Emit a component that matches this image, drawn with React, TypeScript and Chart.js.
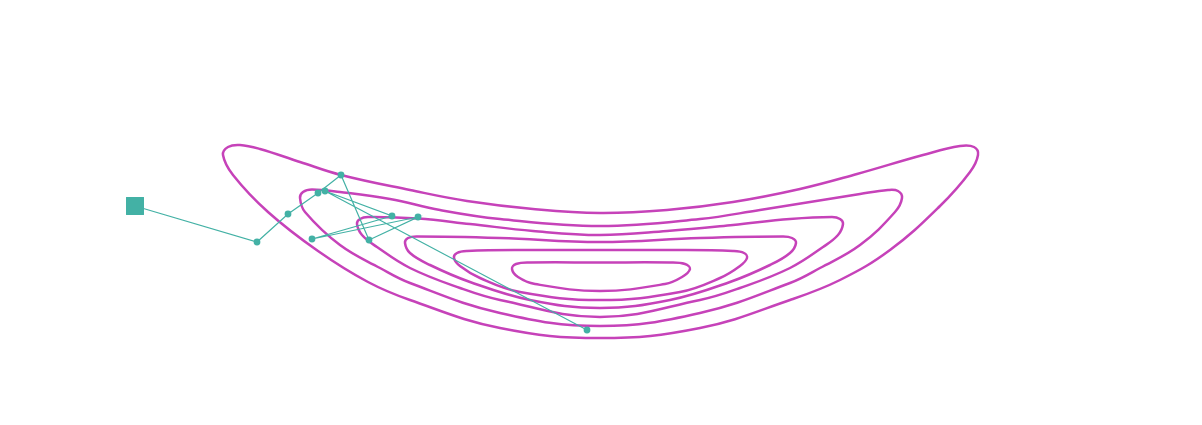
import { useEffect, useRef } from "react";
import { Chart, registerables } from "chart.js";

Chart.register(...registerables);

// Optimisation path (x, y) in data units; first point is the start marker
const PATH: [number, number][] = [
  [-4.65, 1.94],
  [-3.43, 1.58],
  [-3.12, 1.86],
  [-2.82, 2.07],
  [-2.59, 2.25],
  [-2.31, 1.6],
  [-1.82, 1.83],
  [-2.88, 1.61],
  [-2.08, 1.84],
  [-2.75, 2.09],
  [-0.13, 0.7],
];

// Contour level curves, outermost to innermost (closed loops)
const CONTOUR_1: [number, number][] = [
  [0, 0.62], [-1.0, 0.72], [-1.9, 1.0], [-2.32, 1.18], [-2.82, 1.49], [-3.32, 1.88],
  [-3.67, 2.25], [-3.77, 2.45], [-3.72, 2.53], [-3.6, 2.55], [-3.4, 2.51], [-3.0, 2.38],
  [-2.59, 2.25], [-1.9, 2.1], [-1.33, 1.99], [-0.67, 1.91], [0, 1.87], [0.67, 1.9],
  [1.33, 1.98], [2.0, 2.11], [2.57, 2.26], [3.23, 2.45], [3.6, 2.54], [3.74, 2.53],
  [3.78, 2.45], [3.7, 2.28], [3.4, 1.94], [2.9, 1.5], [2.4, 1.2], [1.9, 1.0],
  [1.0, 0.72],
];

const CONTOUR_2: [number, number][] = [
  [0, 0.74], [-1.0, 0.87], [-1.9, 1.17], [-2.2, 1.32], [-2.6, 1.55], [-2.95, 1.88],
  [-3.0, 2.02], [-2.97, 2.08], [-2.88, 2.105], [-2.6, 2.08], [-2.1, 2.01], [-1.6, 1.9],
  [-1.0, 1.81], [0, 1.74], [1.0, 1.81], [1.6, 1.9], [2.1, 1.98], [2.6, 2.06],
  [2.88, 2.1], [2.98, 2.09], [3.02, 2.02], [2.95, 1.88], [2.6, 1.55], [2.2, 1.32],
  [1.9, 1.17], [1.0, 0.87],
];

const CONTOUR_3: [number, number][] = [
  [0, 0.83], [-1.0, 1.0], [-1.4, 1.12], [-1.9, 1.32], [-2.23, 1.53], [-2.38, 1.65],
  [-2.43, 1.76], [-2.4, 1.81], [-2.32, 1.83], [-1.82, 1.815], [-1.3, 1.76], [-0.67, 1.69],
  [0, 1.65], [0.67, 1.69], [1.33, 1.75], [1.9, 1.81], [2.32, 1.83], [2.4, 1.81],
  [2.43, 1.76], [2.38, 1.65], [2.23, 1.53], [1.9, 1.32], [1.4, 1.12], [1.0, 1.0],
];

const CONTOUR_4: [number, number][] = [
  [0, 0.92], [-0.7, 1.0], [-1.3, 1.18], [-1.7, 1.35], [-1.9, 1.47], [-1.95, 1.57],
  [-1.92, 1.62], [-1.83, 1.635], [-1.0, 1.62], [0, 1.58], [1.0, 1.62], [1.83, 1.635],
  [1.92, 1.62], [1.96, 1.57], [1.9, 1.47], [1.7, 1.35], [1.3, 1.18], [0.7, 1.0],
];

const CONTOUR_5: [number, number][] = [
  [0, 1.0], [-0.8, 1.08], [-1.2, 1.22], [-1.4, 1.34], [-1.46, 1.42], [-1.43, 1.47],
  [-1.33, 1.49], [-0.7, 1.5], [0, 1.5], [0.7, 1.5], [1.33, 1.49], [1.44, 1.47],
  [1.47, 1.42], [1.4, 1.34], [1.2, 1.22], [0.8, 1.08],
];

const CONTOUR_6: [number, number][] = [
  [0, 1.09], [-0.65, 1.16], [-0.82, 1.23], [-0.88, 1.31], [-0.84, 1.36], [-0.7, 1.375],
  [0, 1.375], [0.7, 1.375], [0.85, 1.36], [0.9, 1.31], [0.82, 1.23], [0.65, 1.16],
];

const CONTOURS = [CONTOUR_1, CONTOUR_2, CONTOUR_3, CONTOUR_4, CONTOUR_5, CONTOUR_6];

const X_RANGE: [number, number] = [-6.0, 6.02];
const Y_RANGE: [number, number] = [-0.25, 4.0];

const TEAL = "#43b1a5";
const MAGENTA = "#c642b9";

const toPts = (arr: [number, number][]) => arr.map(([x, y]) => ({ x, y }));

// closed loop: one extra point on each side so every visible spline segment
// has real neighbours; the two padding segments are drawn transparent
const closedLoop = (arr: [number, number][]) => {
  const n = arr.length;
  return toPts([arr[n - 1], ...arr, arr[0], arr[1]]);
};

export default function App() {
  const ref = useRef<HTMLCanvasElement | null>(null);

  useEffect(() => {
    if (!ref.current) return;
    const pathDs = {
      label: "path",
      data: toPts(PATH),
      showLine: true,
      borderColor: TEAL,
      borderWidth: 1.2,
      backgroundColor: TEAL,
      pointBackgroundColor: TEAL,
      pointBorderWidth: 0,
      pointRadius: PATH.map((_, i) => (i === 0 ? 0 : 3.4)),
      tension: 0,
      order: 0,
    };
    const startDs = {
      label: "start",
      data: toPts([PATH[0]]),
      showLine: false,
      pointStyle: "rect",
      pointRadius: 12.7,
      pointBackgroundColor: TEAL,
      pointBorderColor: TEAL,
      pointBorderWidth: 0,
      backgroundColor: TEAL,
      order: 0,
    };
    const contourDs = CONTOURS.map((c, i) => {
      const last = c.length + 1;
      return {
        label: "level " + (i + 1),
        data: closedLoop(c),
        showLine: true,
        borderColor: MAGENTA,
        borderWidth: 2.5,
        borderCapStyle: "round",
        borderJoinStyle: "round",
        pointRadius: 0,
        tension: 0.4,
        fill: false,
        order: 10,
        segment: {
          borderColor: (ctx: any) =>
            ctx.p0DataIndex === 0 || ctx.p0DataIndex === last ? "rgba(0,0,0,0)" : MAGENTA,
        },
      };
    });
    const chart = new Chart(ref.current, {
      type: "scatter",
      data: { datasets: [startDs, pathDs, ...contourDs] as any },
      options: {
        animation: false,
        responsive: false,
        events: [],
        layout: { padding: 0, autoPadding: false },
        scales: {
          x: { type: "linear", min: X_RANGE[0], max: X_RANGE[1], display: false },
          y: { type: "linear", min: Y_RANGE[0], max: Y_RANGE[1], display: false },
        },
        plugins: { legend: { display: false }, tooltip: { enabled: false } },
      },
    });
    return () => chart.destroy();
  }, []);

  return (
    <div style={{ position: "fixed", left: 0, top: 0, width: 1202, height: 425, background: "#fff" }}>
      <canvas ref={ref} width={1202} height={425} style={{ width: 1202, height: 425 }} />
    </div>
  );
}
